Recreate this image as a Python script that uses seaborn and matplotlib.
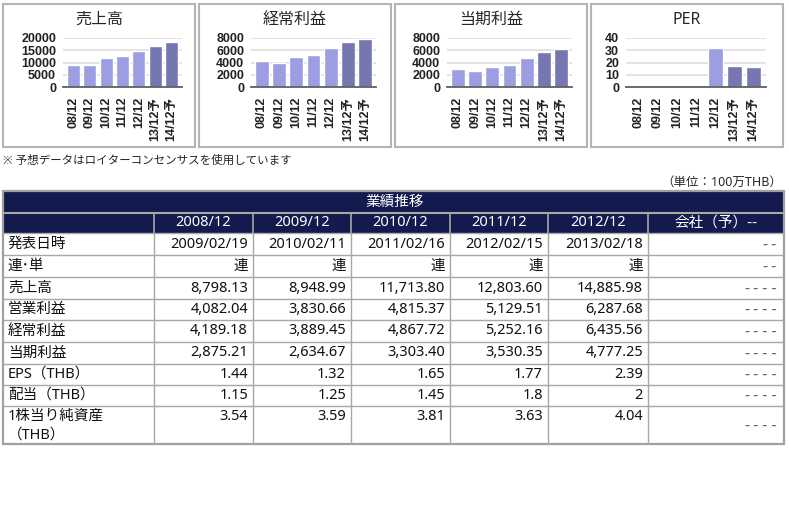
import numpy as np
import pandas as pd
import matplotlib
matplotlib.use("Agg")
import matplotlib.pyplot as plt
import seaborn as sns
from matplotlib.patches import Rectangle

# ---------------- data ----------------
periods = ["08/12", "09/12", "10/12", "11/12", "12/12", "13/12予", "14/12予"]
kinds = ["実績"] * 5 + ["予想"] * 2

years = ["2008/12", "2009/12", "2010/12", "2011/12", "2012/12"]
company_col = "会社（予）--"
announce = ["2009/02/19", "2010/02/11", "2011/02/16", "2012/02/15", "2013/02/18"]
consol = ["連", "連", "連", "連", "連"]
sales = [8798.13, 8948.99, 11713.80, 12803.60, 14885.98]
sales_fc = [16600, 18300]
op_income = [4082.04, 3830.66, 4815.37, 5129.51, 6287.68]
ordinary = [4189.18, 3889.45, 4867.72, 5252.16, 6435.56]
ordinary_fc = [7300, 7900]
net = [2875.21, 2634.67, 3303.40, 3530.35, 4777.25]
net_fc = [5650, 6250]
per = [np.nan, np.nan, np.nan, np.nan, 31.5]
per_fc = [17.3, 16.5]
eps = [1.44, 1.32, 1.65, 1.77, 2.39]
dps = [1.15, 1.25, 1.45, 1.8, 2]
bps = [3.54, 3.59, 3.81, 3.63, 4.04]
company_vals = ["--", "--", "----", "----", "----", "----", "----", "----", "----"]
row_labels = ["発表日時", "連･単", "売上高", "営業利益", "経常利益", "当期利益",
              "EPS（THB）", "配当（THB）", "1株当り純資産"]

# ---------------- style ----------------
sns.set_style("white")
plt.rcParams["font.family"] = ["Noto Sans", "Noto Sans CJK JP", "DejaVu Sans"]

W, H = 789, 512
fig = plt.figure(figsize=(W / 100, H / 100), dpi=100)

def frect(x0, y0, x1, y1):
    return [x0 / W, 1 - y1 / H, (x1 - x0) / W, (y1 - y0) / H]

navy = "#121a4e"
light = "#9d9de2"
dark = "#7676b0"
palette = {"実績": light, "予想": dark}
tick_font = ["Liberation Sans", "Noto Sans CJK JP"]
tfont = ["Noto Sans", "Noto Sans CJK JP"]
dash_font = ["DejaVu Sans Mono"]
fs = 10.5

# ---------------- table (overlay axes in pixel coords) ----------------
tab = fig.add_axes([0, 0, 1, 1])
tab.set_xlim(0, W)
tab.set_ylim(H, 0)
tab.axis("off")

cols = [3, 154, 253, 351, 450, 548, 648, 784]
rows = [233, 255, 277, 299, 320, 342, 364, 385, 406, 444]
gline = "#a8a8a8"

tab.add_patch(Rectangle((3, 191), 781, 42, facecolor=navy, edgecolor="none"))
tab.plot([3, 784], [212.5, 212.5], color=gline, lw=1.5)
for x in cols[1:-1]:
    tab.plot([x, x], [212.5, 233], color=gline, lw=1.2)
for y in rows[:-1]:
    tab.plot([3, 784], [y, y], color=gline, lw=1.0)
for x in cols[1:-1]:
    tab.plot([x, x], [233, 444], color=gline, lw=1.0)
tab.add_patch(Rectangle((3, 191), 781, 253, fill=False, edgecolor="#a0a0a0", lw=1.6))

tab.text(395, 202, "業績推移", color="white", fontsize=fs, ha="center", va="center",
         family=tfont)
for i, lab in enumerate(years):
    tab.text((cols[i + 1] + cols[i + 2]) / 2, 223, lab, color="white",
             fontsize=fs, ha="center", va="center", family=tfont)
tab.text((cols[-2] + cols[-1]) / 2, 223, company_col, color="white",
         fontsize=fs, ha="center", va="center", family=["Noto Sans CJK JP"])

fmt2 = lambda v: f"{v:,.2f}"
table_rows = [
    announce,
    consol,
    [fmt2(v) for v in sales],
    [fmt2(v) for v in op_income],
    [fmt2(v) for v in ordinary],
    [fmt2(v) for v in net],
    [f"{v:.2f}" for v in eps],
    [f"{v:g}" for v in dps],
    [f"{v:.2f}" for v in bps],
]
for r, (lab, vals) in enumerate(zip(row_labels, table_rows)):
    last = r == len(row_labels) - 1
    yc = (rows[r] + rows[r + 1]) / 2 if not last else rows[r] + 10.5
    tab.text(8, yc, lab, fontsize=fs, ha="left", va="center", color="#111111", family=tfont)
    for c, v in enumerate(vals):
        tab.text(cols[c + 2] - 5, yc, v, fontsize=fs, ha="right", va="center",
                 color="#111111", family=tfont)
    yco = (rows[r] + rows[r + 1]) / 2
    tab.text(cols[-1] - 5, yco, company_vals[r], fontsize=11, ha="right",
             va="center", color="#666666", family=dash_font)
tab.text(8, 435, "（THB）", fontsize=fs, ha="left", va="center", color="#111111", family=tfont)

fig.text(3 / W, 1 - 161 / H, "※ 予想データはロイターコンセンサスを使用しています",
         fontsize=8.3, ha="left", va="center", family=tfont)
fig.text(782 / W, 1 - 182 / H, "（単位：100万THB）", fontsize=9, ha="right", va="center",
         family=tfont)

# ---------------- mini bar charts ----------------
panels = [
    ("売上高", sales + sales_fc, [0, 5000, 10000, 15000, 20000], 3, 63, 182),
    ("経常利益", ordinary + ordinary_fc, [0, 2000, 4000, 6000, 8000], 199, 251, 376),
    ("当期利益", net + net_fc, [0, 2000, 4000, 6000, 8000], 395, 447, 572),
    ("PER", per + per_fc, [0, 10, 20, 30, 40], 591, 626, 766),
]

for title, vals, yticks, bx, a0, a1 in panels:
    fig.patches.append(Rectangle((bx / W, 1 - 147 / H), 192 / W, 143 / H,
                                 transform=fig.transFigure, fill=False,
                                 edgecolor="#b4b4b4", lw=1.5))
    fig.text((bx + 96) / W, 1 - 20 / H, title, fontsize=11.5, ha="center", va="center",
             family=tfont)

    df = pd.DataFrame({"period": periods, "value": vals, "kind": kinds}).dropna()
    ax = fig.add_axes(frect(a0, 38, a1, 87))
    ax.patch.set_alpha(0)
    sns.barplot(data=df, x="period", y="value", hue="kind", order=periods,
                hue_order=["実績", "予想"], palette=palette, dodge=False,
                width=0.8, saturation=1, legend=False, ax=ax)
    ax.set_xlim(-0.64, 6.64)
    ax.set_ylim(0, yticks[-1])
    ax.set_yticks(yticks)
    ax.set_xlabel("")
    ax.set_ylabel("")
    ax.set_axisbelow(True)
    ax.yaxis.grid(True, color="#dedede", lw=1.2)
    for s in ["top", "right", "left"]:
        ax.spines[s].set_visible(False)
    ax.spines["bottom"].set_color("#606060")
    ax.spines["bottom"].set_linewidth(1.3)
    ax.tick_params(axis="both", length=0, labelsize=9)
    ax.tick_params(axis="x", pad=7, rotation=90)
    ax.tick_params(axis="y", pad=5)
    for lbl in ax.get_xticklabels() + ax.get_yticklabels():
        lbl.set_fontfamily(tick_font)
        lbl.set_fontweight("bold")
        lbl.set_color("#222222")

fig.savefig("out.png", dpi=100)
